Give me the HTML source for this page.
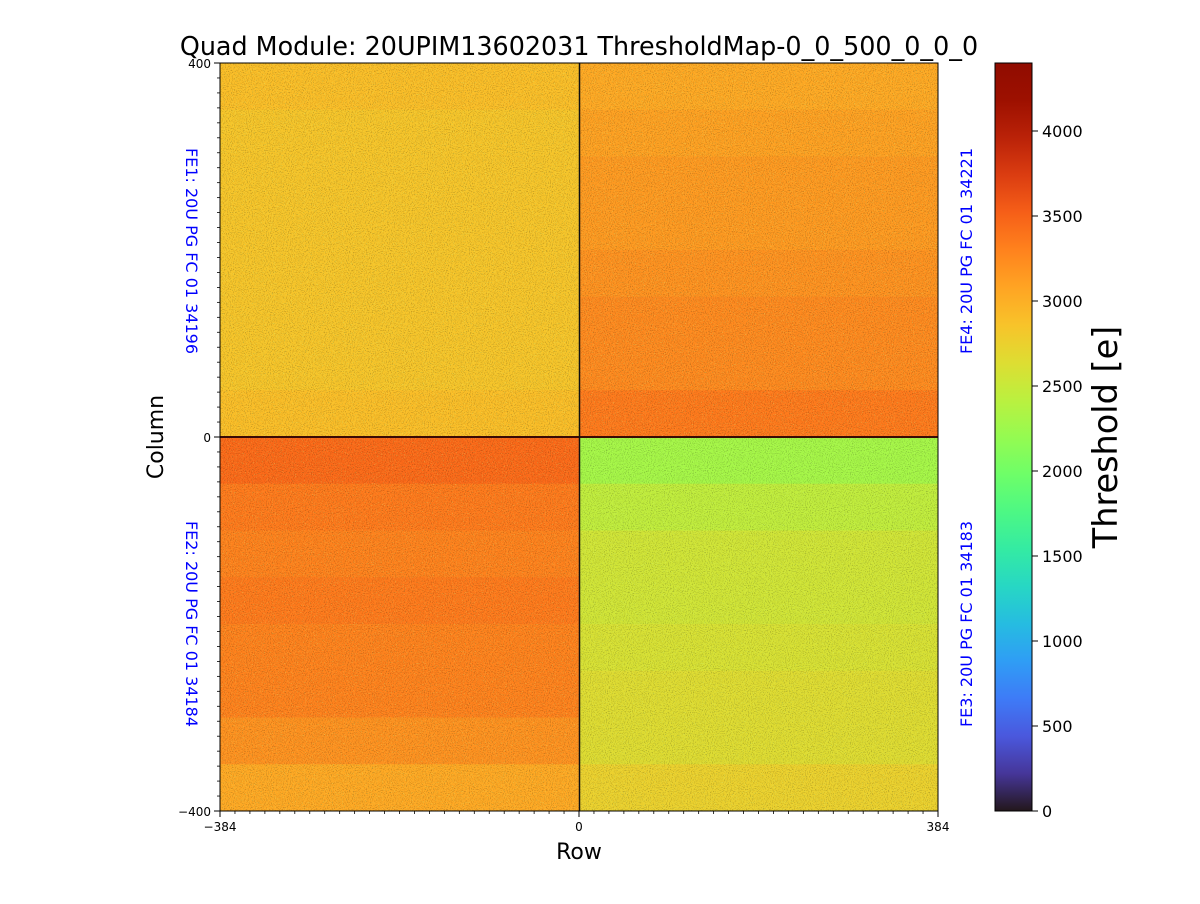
<!DOCTYPE html>
<html><head><meta charset="utf-8"><style>
body{margin:0;background:#fff;font-family:"DejaVu Sans","Liberation Sans",sans-serif}
</style></head><body>
<svg id="fig" width="1200" height="900" xmlns="http://www.w3.org/2000/svg" font-family="DejaVu Sans, Liberation Sans, sans-serif">
<defs>
<filter id="noise" x="0" y="0" width="100%" height="100%">
<feTurbulence type="fractalNoise" baseFrequency="0.95" numOctaves="1" seed="3"/>
<feColorMatrix type="matrix" values="0 0 0 0 0  0 0 0 0 0  0 0 0 0 0  2.4 0 0 0 -1.2"/>
</filter>
<filter id="noise2" x="0" y="0" width="100%" height="100%">
<feTurbulence type="fractalNoise" baseFrequency="0.9" numOctaves="1" seed="11"/>
<feColorMatrix type="matrix" values="0 0 0 0 0.55  0 0 0 0 0.95  0 0 0 0 0.25  0 3 0 0 -1.75"/>
</filter>
<linearGradient id="cbar" x1="0" y1="1" x2="0" y2="0"></linearGradient>
</defs>
<rect width="1200" height="900" fill="#fff"/>
<g id="heat"></g>
<rect x="220" y="63" width="718" height="748" filter="url(#noise2)" opacity="0.6"/>
<rect x="220" y="63" width="718" height="748" filter="url(#noise)" opacity="0.35"/>
<line x1="220" y1="437" x2="938" y2="437" stroke="#3a0a05" stroke-width="2"/>
<line x1="579.5" y1="63" x2="579.5" y2="811" stroke="#111" stroke-width="1.5"/>
<rect x="220" y="63" width="718" height="748" fill="none" stroke="#000" stroke-width="1"/>
<g id="axes"></g>
<text x="579" y="55" font-size="25.4" text-anchor="middle">Quad Module: 20UPIM13602031 ThresholdMap-0_0_500_0_0_0</text>
<text x="579" y="859" font-size="22" text-anchor="middle">Row</text>
<text transform="translate(163,437) rotate(-90)" font-size="22" text-anchor="middle">Column</text>
<g fill="#0000ff" font-size="16" text-anchor="middle">
<text transform="translate(186,251) rotate(90)">FE1: 20U PG FC 01 34196</text>
<text transform="translate(186,624) rotate(90)">FE2: 20U PG FC 01 34184</text>
<text transform="translate(972,251) rotate(-90)">FE4: 20U PG FC 01 34221</text>
<text transform="translate(972,624) rotate(-90)">FE3: 20U PG FC 01 34183</text>
</g>
<rect x="995" y="63" width="37" height="748" fill="url(#cbar)" stroke="#000" stroke-width="1"/>
<g id="cbticks"></g>
<text transform="translate(1117,437) rotate(-90)" font-size="33.5" text-anchor="middle">Threshold [e]</text>
</svg>
<script>
// Row-band mean thresholds (top to bottom) per quadrant
const tlBands=[2900,2850,2850,2850,2850,2850,2850,2900];
const trBands=[3050,3100,3150,3150,3200,3250,3250,3350];
const blBands=[3450,3350,3300,3350,3300,3300,3200,3050];
const brBands=[2300,2450,2550,2550,2600,2650,2650,2750];
const xTicks=[-384,0,384];
const yTicks=[-400,0,400];
const cbTicks=[0,500,1000,1500,2000,2500,3000,3500,4000];
const vmax=4400;

const NS="http://www.w3.org/2000/svg";
const X0=220,X1=938,Y0=63,Y1=811;
const xs=v=>X0+(v+384)/768*(X1-X0);
const ys=v=>Y1-(v+400)/800*(Y1-Y0);
const cy=v=>811-v/vmax*748;
function turbo(t){t=Math.max(0,Math.min(1,t));
 const r=34.61+t*(1172.33-t*(10793.56-t*(33300.12-t*(38394.49-t*14825.05))));
 const g=23.31+t*(557.33+t*(1225.33-t*(3574.96-t*(1073.77+t*707.56))));
 const b=27.2+t*(3211.1-t*(15327.97-t*(27814-t*(22569.18-t*6838.66))));
 const c=x=>Math.round(Math.max(0,Math.min(255,x)));
 return `rgb(${c(r)},${c(g)},${c(b)})`;}
function mk(tag,attrs,parent){const e=document.createElementNS(NS,tag);for(const k in attrs)e.setAttribute(k,attrs[k]);parent.appendChild(e);return e;}
const heat=document.getElementById('heat');
const quads=[[tlBands,-384,0,400,0],[trBands,0,384,400,0],[blBands,-384,0,0,-400],[brBands,0,384,0,-400]];
quads.forEach(([b,xa,xb,ya,yb])=>{
 const n=b.length;
 b.forEach((v,i)=>{
  const top=ya-(ya-yb)*i/n, bot=ya-(ya-yb)*(i+1)/n;
  const r=mk('rect',{x:xs(xa),y:ys(top),width:xs(xb)-xs(xa),height:ys(bot)-ys(top)+0.5,fill:turbo(v/vmax)},heat);
  
  
 });
});
const ax=document.getElementById('axes');
xTicks.forEach(v=>{mk('line',{x1:xs(v),x2:xs(v),y1:Y1,y2:Y1+6,stroke:'#000'},ax);
 const t=mk('text',{x:xs(v),y:Y1+20,'font-size':12,'text-anchor':'middle'},ax);t.textContent=v<0?'\u2212'+(-v):v;
 
 });
for(let v=-384;v<=384;v+=16)mk('line',{x1:xs(v),x2:xs(v),y1:Y1,y2:Y1+3,stroke:'#000','stroke-width':0.8},ax);
yTicks.forEach(v=>{mk('line',{x1:X0-6,x2:X0,y1:ys(v),y2:ys(v),stroke:'#000'},ax);
 const t=mk('text',{x:X0-9,y:ys(v)+5,'font-size':12,'text-anchor':'end'},ax);t.textContent=v<0?'\u2212'+(-v):v;
 
 });
for(let v=-400;v<=400;v+=16)mk('line',{x1:X0-3,x2:X0,y1:ys(v),y2:ys(v),stroke:'#000','stroke-width':0.8},ax);
const grad=document.getElementById('cbar');
for(let i=0;i<=20;i++)mk('stop',{offset:i/20,'stop-color':turbo(i/20)},grad);
const cb=document.getElementById('cbticks');
cbTicks.forEach(v=>{mk('line',{x1:1032,x2:1038,y1:cy(v),y2:cy(v),stroke:'#000'},cb);
 const t=mk('text',{x:1042,y:cy(v)+6,'font-size':16},cb);t.textContent=v;
 
 });
</script>
</body></html>
